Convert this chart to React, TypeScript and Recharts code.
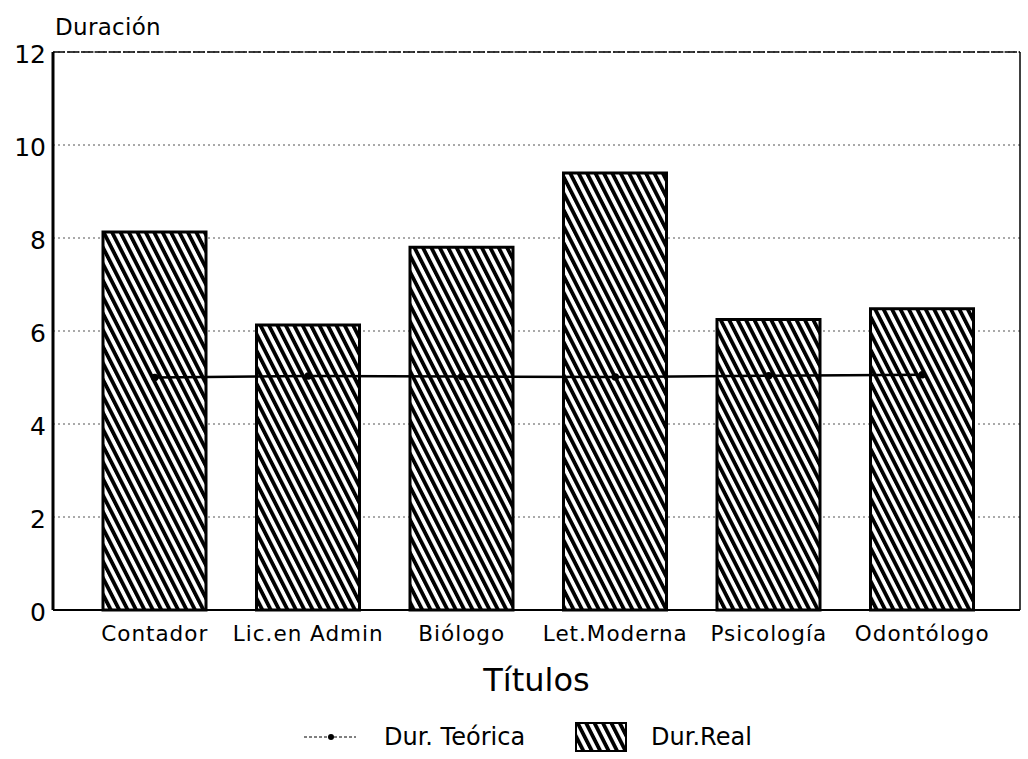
import { ComposedChart, Bar, Line, XAxis, YAxis, CartesianGrid, ReferenceLine } from 'recharts';

document.body.style.margin = '0';

const categories = ['Contador', 'Lic.en  Admin', 'Biólogo', 'Let.Moderna', 'Psicología', 'Odontólogo'];
const durReal = [8.13, 6.13, 7.8, 9.4, 6.25, 6.48];
const durTeorica = [5.0, 5.03, 5.02, 5.01, 5.04, 5.06];
const yTicks = [0, 2, 4, 6, 8, 10, 12];

const data = categories.map((name, i) => ({ name, real: durReal[i], teorica: durTeorica[i] }));

const FONT = '"DejaVu Sans", sans-serif';

function HatchPattern({ id }: { id: string }) {
  return (
    <pattern id={id} patternUnits="userSpaceOnUse" width={7.5} height={7.5} patternTransform="rotate(-27)">
      <rect width={7.5} height={7.5} fill="#fff" />
      <rect width={3.8} height={7.5} fill="#000" />
    </pattern>
  );
}

export default function App() {
  return (
    <div style={{ position: 'relative', width: 1028, height: 759, background: '#fff', fontFamily: FONT }}>
      <div style={{ position: 'absolute', left: 55, top: 14, fontSize: 23, letterSpacing: 0.3, color: '#000' }}>
        Duración
      </div>
      <ComposedChart width={1028} height={759} data={data} margin={{ top: 52, right: 0, left: 0, bottom: 0 }}>
        <defs>
          <HatchPattern id="hatch" />
        </defs>
        <CartesianGrid vertical={false} stroke="#555" strokeDasharray="2 3" strokeWidth={1} />
        <XAxis
          dataKey="name"
          height={149}
          padding={{ left: 25, right: 21 }}
          axisLine={{ stroke: '#000', strokeWidth: 2 }}
          tickLine={false}
          tickSize={0}
          tickMargin={16}
          interval={0}
          tick={{ fill: '#000', fontSize: 21.5, fontFamily: FONT, letterSpacing: 1 }}
          label={{ value: 'Títulos', position: 'insideTop', offset: 58, fill: '#000', fontSize: 32, fontFamily: FONT }}
        />
        <YAxis
          domain={[0, 12]}
          ticks={yTicks}
          width={53}
          axisLine={{ stroke: '#000', strokeWidth: 3 }}
          tickLine={false}
          tickSize={0}
          tickMargin={7}
          tick={{ fill: '#000', fontSize: 25, fontFamily: FONT, dy: 2 }}
        />
        <YAxis
          yAxisId="r"
          orientation="right"
          width={8}
          tick={false}
          tickLine={false}
          axisLine={{ stroke: '#000', strokeWidth: 1.5 }}
        />
        <ReferenceLine y={12} stroke="#000" strokeWidth={1.5} strokeDasharray="12 2" />
        <Bar dataKey="real" barSize={103} fill="url(#hatch)" stroke="#000" strokeWidth={3} isAnimationActive={false} />
        <Line
          dataKey="teorica"
          stroke="#000"
          strokeWidth={2.5}
          dot={{ r: 2.5, fill: '#000', stroke: '#000' }}
          isAnimationActive={false}
        />
      </ComposedChart>
      <div
        style={{
          position: 'absolute',
          top: 722,
          left: 0,
          width: 1028,
          display: 'flex',
          alignItems: 'center',
          fontSize: 24,
          color: '#000',
        }}
      >
        <svg width={52} height={20} style={{ marginLeft: 304 }}>
          <line x1={0} y1={10} x2={52} y2={10} stroke="#000" strokeWidth={1} strokeDasharray="3 2" />
          <circle cx={27} cy={10} r={3} fill="#000" />
        </svg>
        <span style={{ marginLeft: 28 }}>Dur. Teórica</span>
        <svg width={52} height={30} style={{ marginLeft: 50 }}>
          <defs>
            <HatchPattern id="hatchLegend" />
          </defs>
          <rect x={1} y={1} width={50} height={28} fill="url(#hatchLegend)" stroke="#000" strokeWidth={2} />
        </svg>
        <span style={{ marginLeft: 24 }}>Dur.Real</span>
      </div>
    </div>
  );
}
